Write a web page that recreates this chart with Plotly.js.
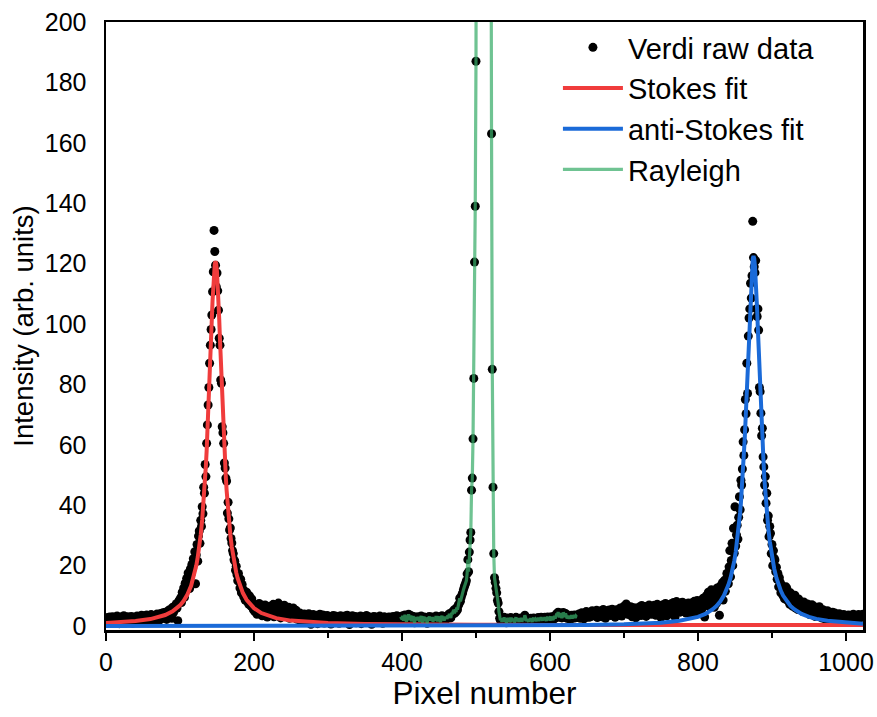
<!DOCTYPE html>
<html>
<head>
<meta charset="utf-8">
<script src="https://cdn.plot.ly/plotly-3.0.1.min.js"></script>
<style>html,body{margin:0;padding:0;background:#fff;}#chart{width:877px;height:717px;}</style>
</head>
<body>
<div id="chart"></div>
<script>
// ---- Raw data (Verdi), one value per pixel, blocks of 100 pixels ----
const raw000 = [
2.1,1.5,2.8,2.4,1.2,3.0,2.2,2.6,1.8,3.1,2.4,1.4,2.9,2.0,2.7,3.3,1.9,2.5,0.8,2.8,
3.0,2.2,1.6,2.9,3.4,2.1,2.6,1.3,2.4,3.1,2.8,2.0,1.5,2.7,3.2,2.3,0.9,2.6,3.0,2.2,
2.8,1.9,3.3,2.5,1.4,2.9,3.1,2.4,3.6,2.0,2.7,1.6,3.4,2.8,2.2,3.7,2.5,1.1,3.0,3.3,
2.6,3.8,2.1,3.1,2.9,1.7,3.5,3.2,2.4,4.0,3.3,2.8,1.9,3.6,4.2,3.0,2.5,4.4,3.8,3.2,
4.6,3.5,2.2,4.8,4.1,5.3,3.7,4.9,5.6,2.6,6.2,4.4,5.1,6.6,5.8,7.4,6.0,1.8,7.9,8.6];
const raw100 = [
8.6,9.4,7.8,11.2,10.1,12.6,9.5,14.2,12.8,15.8,13.9,17.6,16.1,12.4,18.9,17.2,20.4,19.1,22.3,21.0,
24.6,14.0,23.5,27.0,21.5,29.8,31.5,27.4,35.0,33.0,39.5,37.2,46.0,44.0,53.5,49.5,60.5,66.6,73.2,79.0,
87.0,93.0,98.2,103.0,110.7,117.3,131.0,124.0,119.5,112.4,116.9,111.0,104.6,95.3,93.0,81.5,80.4,66.0,64.0,60.5,
54.0,52.3,49.0,48.0,37.4,41.0,35.5,31.8,32.5,29.0,27.5,25.0,24.0,22.0,21.5,18.5,19.8,17.0,15.0,17.4,
14.8,12.6,15.5,11.0,13.8,12.2,9.8,11.6,8.6,10.4,11.2,8.0,9.6,7.2,10.0,8.4,6.6,9.0,7.4,5.5];
const raw200 = [
6.2,4.8,7.1,5.6,3.9,6.7,5.2,7.5,4.4,6.0,5.3,3.4,6.8,4.9,5.7,7.0,4.1,5.9,3.0,6.3,
5.0,4.2,6.6,3.6,5.4,4.7,7.2,3.1,5.8,4.5,6.1,3.8,5.2,7.6,4.3,5.6,2.7,6.4,4.9,5.3,
3.5,6.9,4.6,5.1,3.2,5.7,4.0,6.2,2.6,4.8,5.5,3.4,4.4,6.0,2.9,4.7,3.7,5.2,2.3,4.1,
3.6,2.5,4.3,3.1,1.2,3.9,2.8,3.4,4.0,2.2,3.7,1.6,3.2,2.9,4.1,2.4,3.5,0.6,3.0,2.7,
3.8,2.1,3.3,1.9,3.6,2.8,0.8,3.4,2.5,3.9,1.7,3.1,2.6,3.7,2.2,1.0,3.3,2.9,2.0,3.5];
const raw300 = [
2.8,1.6,3.2,2.4,0.7,3.0,2.2,3.5,1.9,2.7,3.3,1.4,2.5,3.1,2.0,0.9,2.9,3.4,2.3,1.8,
3.0,2.6,1.2,3.3,2.1,2.8,3.6,1.7,2.4,0.5,3.1,2.7,2.0,3.4,1.5,2.9,2.3,3.2,1.1,2.6,
2.2,3.0,1.8,2.7,3.3,0.8,2.5,2.9,1.6,3.1,2.4,2.0,3.5,1.3,2.8,2.2,3.0,1.9,2.6,0.6,
2.9,2.3,3.2,1.7,2.5,3.0,2.1,1.4,2.8,2.4,3.3,1.9,2.6,2.2,0.9,2.7,3.1,2.0,2.4,1.6,
2.5,2.9,1.8,3.0,2.3,1.2,2.7,2.1,3.2,2.6,1.5,2.8,2.2,3.4,1.9,2.5,2.9,1.7,3.1,2.4];
const raw400 = [
2.3,3.4,1.8,2.9,3.7,2.5,1.4,3.1,2.6,3.9,2.0,2.8,3.5,1.6,2.4,3.2,2.7,1.1,3.0,2.2,
2.6,1.9,3.1,2.4,1.5,2.8,3.3,2.0,1.2,2.7,3.0,2.3,1.7,2.5,0.9,2.9,2.1,3.2,1.8,2.6,
2.2,3.0,1.4,2.7,2.4,1.9,3.3,2.1,1.6,2.8,3.1,2.4,1.3,2.6,3.4,2.2,2.9,1.8,3.2,2.5,
3.0,2.4,3.6,2.8,4.1,3.3,2.7,4.4,3.9,4.8,5.3,4.2,5.6,4.7,6.1,5.4,6.8,7.3,9.2,8.2,
9.5,10.4,11.0,12.0,12.8,13.5,14.2,15.0,17.3,22.0,18.0,24.5,28.5,31.0,45.0,49.0,62.0,82.0,120.5,139.0];
const raw500 = [
187.0,290,430,610,820,1050,1280,1480,1640,1760,1820,1800,1720,1590,1410,1190,960,730,520,350,
235,163.0,85.0,46.0,24.0,16.0,14.5,12.5,11.0,8.5,7.6,4.8,2.6,1.9,2.6,1.4,2.2,1.8,2.9,1.5,
2.4,1.1,2.0,2.7,1.6,2.3,1.3,2.8,1.9,2.1,1.7,2.5,1.2,2.2,2.9,1.6,2.0,2.6,1.4,2.3,
1.8,2.7,1.5,2.1,2.4,1.9,3.6,2.8,1.6,2.2,2.0,1.5,2.4,1.8,2.6,2.1,1.4,2.3,2.7,1.9,
2.2,1.6,2.5,2.0,2.8,1.7,2.4,2.1,2.9,2.3,1.8,2.6,2.2,2.9,2.4,1.7,2.7,3.0,2.2,2.5];
const raw600 = [
1.9,2.8,3.1,2.4,2.0,2.7,3.3,2.6,3.0,4.1,3.4,4.6,3.8,2.9,4.3,3.6,2.7,3.2,4.5,3.9,
3.0,4.2,3.5,2.6,2.9,3.4,2.4,3.1,2.8,3.6,2.5,3.2,2.9,3.7,2.7,3.3,3.0,3.5,2.8,4.0,
3.3,2.6,3.9,4.4,3.1,3.7,2.4,4.2,3.6,4.8,3.0,3.4,4.5,2.9,3.8,4.3,3.2,5.1,3.7,4.0,
4.6,3.4,3.9,5.2,2.8,4.1,4.7,3.6,5.0,4.3,3.1,4.8,5.5,3.9,4.4,2.6,5.1,4.0,4.6,3.7,
5.3,4.2,3.5,4.9,5.6,3.8,4.5,5.0,2.9,4.7,5.4,4.1,3.6,5.2,4.8,6.0,4.3,3.3,5.5,4.6];
const raw700 = [
6.6,5.0,4.2,7.3,5.4,4.7,3.8,5.9,5.2,6.4,4.5,3.1,5.7,6.1,4.9,5.3,2.7,6.0,5.5,4.4,
5.8,6.3,4.6,3.5,6.8,5.1,5.7,4.2,6.5,5.0,3.2,6.2,5.6,4.8,7.0,5.3,6.0,3.9,5.7,6.4,
4.9,6.9,5.5,3.6,6.1,7.2,5.2,4.4,6.6,5.9,2.8,6.3,7.0,5.4,6.8,4.7,7.5,6.0,3.4,6.5,
7.1,5.6,6.4,4.1,7.4,6.2,5.3,7.8,6.7,3.0,6.0,8.1,6.9,5.5,7.3,6.4,4.6,7.6,6.1,7.9,
6.8,5.2,7.3,6.0,4.3,6.7,5.5,7.6,6.2,4.8,7.0,3.8,6.5,7.8,5.9,8.2,6.6,4.1,7.4,8.5];
const raw800 = [
6.1,4.4,7.8,6.7,8.4,5.5,7.0,9.2,6.6,3.0,8.0,10.0,7.4,9.5,11.2,8.6,6.3,10.6,12.0,9.8,
8.9,11.0,6.2,10.4,12.0,7.5,12.6,10.0,9.3,3.6,13.2,10.1,12.8,14.4,8.6,13.9,15.2,11.5,14.8,17.4,
17.5,14.0,19.6,25.0,16.3,21.7,27.4,20.0,32.4,24.1,39.5,26.5,30.2,33.4,28.8,36.0,42.8,38.5,48.3,46.7,
52.0,61.0,56.5,65.0,75.0,70.3,87.0,77.0,96.0,102.0,105.0,113.5,108.6,116.0,134.0,122.0,119.0,117.0,121.0,105.0,
102.5,105.0,98.0,79.0,77.6,70.5,63.0,65.5,56.0,52.7,46.7,49.5,40.7,44.0,35.0,36.5,29.6,33.0,30.7,24.0];
const raw900 = [
27.0,20.0,25.0,22.5,21.9,18.0,19.5,15.5,17.4,13.0,16.0,14.5,11.0,13.6,12.0,10.0,12.5,9.0,11.5,13.0,
12.5,8.5,10.6,9.4,7.2,11.0,8.6,9.8,6.5,8.6,7.9,10.2,6.0,8.4,7.1,5.5,9.0,6.8,7.5,5.8,
7.0,4.9,6.4,8.0,5.6,6.9,6.4,4.6,7.3,5.9,6.6,3.8,6.2,5.3,7.1,4.4,5.8,6.5,3.2,5.5,
6.0,4.7,5.3,3.6,6.4,4.1,5.0,2.7,4.6,5.4,3.4,4.8,2.3,4.4,3.9,5.1,2.8,4.2,3.5,1.6,
4.0,3.2,4.6,2.5,3.7,4.3,1.9,3.4,2.8,3.9,2.2,4.1,3.0,2.6,3.6,1.4,3.3,3.8,2.4,3.5];
const raw1000 = [
2.9,3.4,1.8,3.7,3.1,2.3,3.6,2.7,1.5,3.3,3.9,2.6,3.2,2.0,3.5,3.0,2.4,3.8,3.1,2.7,
3.6,2.9,3.3,3.9];
const rawBlockStarts = [0,100,200,300,400,500,600,700,800,900,1000];
const rawBlocks = [raw000,raw100,raw200,raw300,raw400,raw500,raw600,raw700,raw800,raw900,raw1000];

// Rayleigh line: raw data drawn as a line over this pixel span
const rayleighFrom = 398, rayleighTo = 636;

// ---- Stokes fit (Lorentzian), read at these pixels ----
const stokesX = [0,20,40,60,70,80,90,100,105,110,115,118,120,122,124,126,128,
130,131,132,133,134,135,136,137,138,139,140,141,142,143,144,145,146,147,148,
149,150,151,152,153,154,155,156,157,158,159,160,161,162,163,164,165,166,
168,170,172,174,176,178,180,185,190,195,200,210,220,230,250,275,300,350,400,500,600,700,800,900,1023];
const stokesY = [1.02,1.27,1.65,2.32,2.86,3.65,4.86,6.84,8.34,10.41,13.35,15.74,17.69,20.02,22.8,26.16,30.24,
35.23,38.13,41.35,44.91,48.85,53.2,57.99,63.23,68.92,75.03,81.5,88.22,95.02,101.64,107.79,113.12,117.26,119.89,120.8,
119.89,117.26,113.12,107.79,101.64,95.02,88.22,81.5,75.03,68.92,63.23,57.99,53.2,48.85,44.91,41.35,38.13,35.23,
30.24,26.16,22.8,20.02,17.69,15.74,14.08,10.92,8.7,7.11,5.92,4.31,3.3,2.62,1.81,1.28,0.99,0.69,0.55,0.43,0.38,0.35,0.34,0.33,0.32];

// ---- anti-Stokes fit (Lorentzian), read at these pixels ----
const antiX = [0,100,200,300,400,500,600,650,700,725,750,775,790,800,810,815,820,825,830,835,838,841,844,847,849,851,853,855,857,
858,859,860,861,862,863,864,865,866,867,868,869,870,871,872,873,874,875,876,877,878,879,880,881,882,883,884,885,886,887,888,889,890,891,892,
893,895,897,899,901,903,906,909,912,915,920,925,930,940,950,960,975,1000,1023];
const antiY = [0.02,0.03,0.04,0.05,0.08,0.13,0.23,0.35,0.57,0.78,1.12,1.74,2.39,3.06,4.04,4.71,5.57,6.67,8.13,10.11,11.66,13.57,15.96,19.01,21.51,24.5,28.09,32.43,37.69,
40.74,44.1,47.8,51.88,56.36,61.25,66.57,72.3,78.4,84.81,91.4,98.0,104.38,110.25,115.29,119.19,121.66,122.5,121.66,119.19,115.29,110.25,104.38,98.0,91.4,84.81,78.4,72.3,66.57,61.25,56.36,51.88,47.8,44.1,40.74,
37.69,32.43,28.09,24.5,21.51,19.01,15.96,13.57,11.66,10.11,8.13,6.67,5.57,4.04,3.06,2.39,1.74,1.12,0.80];

// ---- build raw series ----
const rawX = [], rawY = [];
rawBlocks.forEach((blk, b) => {
  blk.forEach((v, i) => { rawX.push(rawBlockStarts[b] + i); rawY.push(v); });
});
const rayX = [], rayY = [];
rawX.forEach((x, i) => { if (x >= rayleighFrom && x <= rayleighTo) { rayX.push(x); rayY.push(rawY[i]); } });

const FONT = '"Liberation Sans", Arial, Helvetica, sans-serif';

const traces = [
  { x: rawX, y: rawY, type: 'scatter', mode: 'markers', name: 'Verdi raw data',
    marker: { color: '#000000', size: 9 } },
  { x: stokesX, y: stokesY, type: 'scatter', mode: 'lines', name: 'Stokes fit',
    line: { color: '#f03c3c', width: 4 } },
  { x: antiX, y: antiY, type: 'scatter', mode: 'lines', name: 'anti-Stokes fit',
    line: { color: '#1a6ad8', width: 4 } },
  { x: rayX, y: rayY, type: 'scatter', mode: 'lines', name: 'Rayleigh',
    line: { color: 'rgba(56,172,104,0.72)', width: 3.2 } }
];

const layout = {
  width: 877, height: 717,
  margin: { l: 106, r: 14, t: 22, b: 87 },
  paper_bgcolor: '#ffffff', plot_bgcolor: '#ffffff',
  font: { family: FONT, color: '#000000' },
  showlegend: true,
  xaxis: {
    range: [0, 1023], tick0: 0, dtick: 200,
    ticks: 'outside', ticklen: 8, tickwidth: 2, tickcolor: '#000',
    minor: { dtick: 100, ticks: 'outside', ticklen: 5, tickwidth: 2, tickcolor: '#000' },
    showline: true, mirror: true, linewidth: 2.5, linecolor: '#000',
    showgrid: false, zeroline: false,
    tickfont: { size: 25, family: FONT, color: '#000' },
    title: { text: 'Pixel number', font: { size: 31.5, family: FONT, color: '#000' }, standoff: 8 }
  },
  yaxis: {
    range: [-1.3, 200], tick0: 0, dtick: 20,
    ticks: '', showline: true, mirror: true, linewidth: 2.5, linecolor: '#000',
    showgrid: false, zeroline: false, ticklabelstandoff: 12,
    tickfont: { size: 25, family: FONT, color: '#000' },
    title: { text: 'Intensity (arb. units)', font: { size: 27.5, family: FONT, color: '#000' }, standoff: 3 }
  },
  legend: {
    x: 0.597, y: 1.0, xanchor: 'left', yanchor: 'top',
    bgcolor: 'rgba(0,0,0,0)', borderwidth: 0,
    font: { size: 29, family: FONT, color: '#000' },
    itemwidth: 60
  }
};

Plotly.newPlot('chart', traces, layout, { displayModeBar: false, staticPlot: true });
</script>
</body>
</html>
